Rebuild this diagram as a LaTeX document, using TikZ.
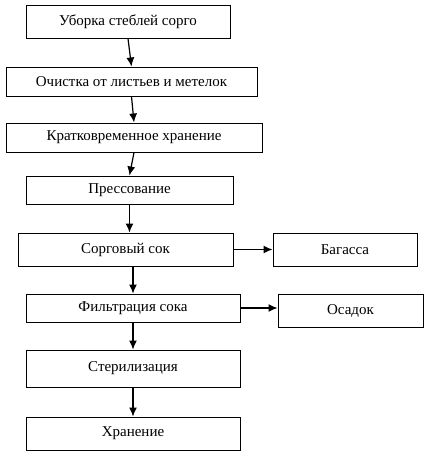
\documentclass[tikz,border=0pt]{standalone}
\usepackage{fontspec}
\setmainfont{Liberation Serif}
\usepackage{tikz}
\usetikzlibrary{arrows.meta}
\tikzstyle{stepbox} = [
    draw=black,
    line width=1pt,
    rectangle,
    font=\fontsize{15}{17}\selectfont,
    inner sep=0pt
    ]
\tikzstyle{flow} = [
    line width=1.2pt,
    -{Latex[length=9pt,width=8pt]}
    ]
\begin{document}
\begin{tikzpicture}[x=1pt,y=-1pt]
\useasboundingbox (0,0) rectangle (430,456);
\node [stepbox, minimum width=204pt, minimum height=33pt] (uborka) at (128,21.5) {Уборка стеблей сорго};
\node [stepbox, minimum width=251pt, minimum height=29pt] (ochistka) at (131.5,81.5) {Очистка от листьев и метелок};
\node [stepbox, minimum width=256pt, minimum height=29pt] (hranK) at (134,137.5) {Кратковременное хранение};
\node [stepbox, minimum width=207pt, minimum height=28pt] (press) at (129.5,190) {Прессование};
\node [stepbox, minimum width=215pt, minimum height=33pt] (sok) at (125.5,249.5) {Сорговый сок};
\node [stepbox, minimum width=144pt, minimum height=33pt] (bagassa) at (345,249.5) {Багасса};
\node [stepbox, minimum width=214pt, minimum height=28pt] (filtr) at (133,308) {Фильтрация сока};
\node [stepbox, minimum width=145pt, minimum height=33pt] (osadok) at (350.5,310.5) {Осадок};
\node [stepbox, minimum width=214pt, minimum height=37pt] (steril) at (133,368.5) {Стерилизация};
\node [stepbox, minimum width=214pt, minimum height=33pt] (hran) at (133,433.5) {Хранение};

% main line
\draw [flow] (uborka.south) -- (ochistka.north);
\draw [flow] (ochistka.south) -- (hranK.north);
\draw [flow] (hranK.south) -- (press.north);
\draw [flow] (press.south) -- (press.south |- sok.north);
\draw [flow] (filtr.north |- sok.south) -- (filtr.north);
\draw [flow] (filtr.south) -- (steril.north);
\draw [flow] (steril.south) -- (hran.north);
% side products
\draw [flow] (sok.east) -- (bagassa.west);
\draw [flow] (filtr.east) -- (filtr.east -| osadok.west);
\end{tikzpicture}
\end{document}
